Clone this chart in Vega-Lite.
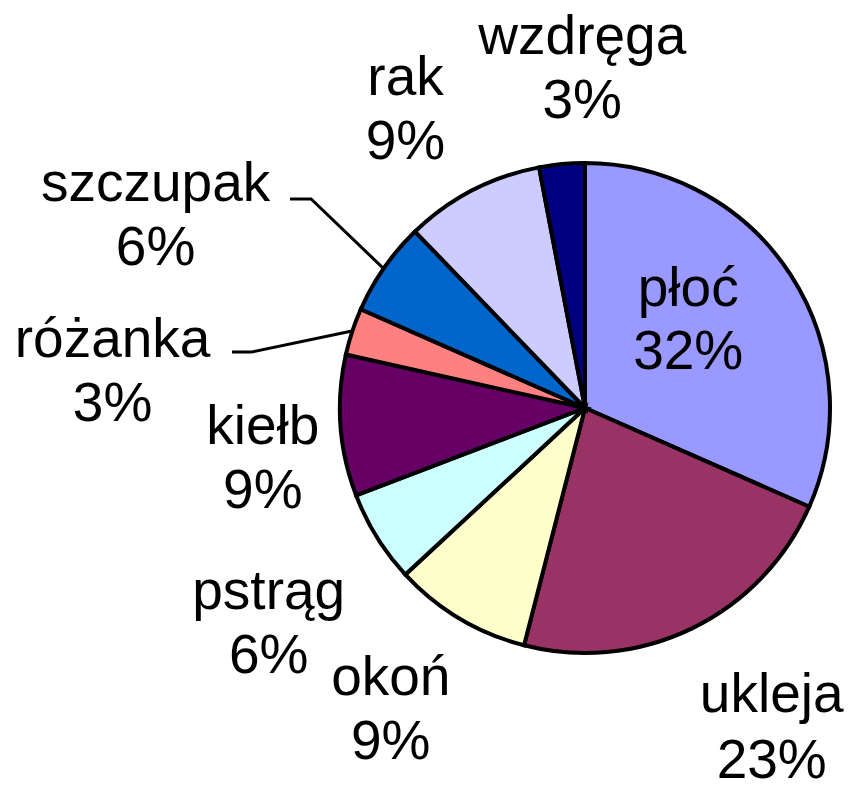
{
  "$schema": "https://vega.github.io/schema/vega-lite/v6.json",
  "autosize": "none",
  "width": 534,
  "height": 758,
  "padding": {"left": 318, "top": 29, "right": 0, "bottom": 0},
  "background": "white",
  "config": {"view": {"stroke": null}},
  "datasets": {
    "fish": [
      {"i": 1, "fish": "płoć", "value": 31.6, "label": "płoć\n32%"},
      {"i": 2, "fish": "ukleja", "value": 22.4, "label": "ukleja\n23%"},
      {"i": 3, "fish": "okoń", "value": 9.1, "label": "okoń\n9%"},
      {"i": 4, "fish": "pstrąg", "value": 6.1, "label": "pstrąg\n6%"},
      {"i": 5, "fish": "kiełb", "value": 9.3, "label": "kiełb\n9%"},
      {"i": 6, "fish": "różanka", "value": 3.1, "label": "różanka\n3%"},
      {"i": 7, "fish": "szczupak", "value": 6.2, "label": "szczupak\n6%"},
      {"i": 8, "fish": "rak", "value": 9.2, "label": "rak\n9%"},
      {"i": 9, "fish": "wzdręga", "value": 3.0, "label": "wzdręga\n3%"}
    ],
    "leaders": [
      {"seg": "szczupak", "k": 1, "u": -1.204, "v": 0.853},
      {"seg": "szczupak", "k": 2, "u": -1.118, "v": 0.853},
      {"seg": "szczupak", "k": 3, "u": -0.824, "v": 0.571},
      {"seg": "różanka", "k": 1, "u": -1.441, "v": 0.229},
      {"seg": "różanka", "k": 2, "u": -1.359, "v": 0.229},
      {"seg": "różanka", "k": 3, "u": -0.951, "v": 0.314}
    ]
  },
  "data": {"name": "fish"},
  "layer": [
    {
      "mark": {"type": "arc", "outerRadius": 245, "stroke": "black", "strokeWidth": 4},
      "encoding": {
        "theta": {"field": "value", "type": "quantitative", "stack": true, "scale": {"domain": [0, 100]}},
        "order": {"field": "i", "type": "quantitative"},
        "color": {
          "field": "fish", "type": "nominal", "legend": null, "sort": null,
          "scale": {
            "domain": ["płoć", "ukleja", "okoń", "pstrąg", "kiełb", "różanka", "szczupak", "rak", "wzdręga"],
            "range": ["#9999FF", "#993366", "#FFFFCC", "#CCFFFF", "#660066", "#FF8080", "#0066CC", "#CCCCFF", "#000080"]
          }
        }
      }
    },
    {
      "data": {"name": "leaders"},
      "mark": {"type": "line", "stroke": "black", "strokeWidth": 3},
      "encoding": {
        "x": {"field": "u", "type": "quantitative", "axis": null, "scale": {"domain": [-1.0898, 1.0898], "nice": false, "zero": false}},
        "y": {"field": "v", "type": "quantitative", "axis": null, "scale": {"domain": [-1.5469, 1.5469], "nice": false, "zero": false}},
        "detail": {"field": "seg", "type": "nominal"},
        "order": {"field": "k", "type": "quantitative"}
      }
    },
    {
      "mark": {"type": "text", "radius": 134, "dx": -9, "dy": -46, "font": "Liberation Sans", "fontSize": 55, "lineHeight": 63, "lineBreak": "\n", "align": "center", "baseline": "middle", "color": "black"},
      "encoding": {
        "theta": {"field": "value", "type": "quantitative", "stack": true},
        "order": {"field": "i", "type": "quantitative"},
        "text": {"condition": {"test": "datum.fish === 'płoć'", "field": "label"}, "value": ""}
      }
    },
    {
      "mark": {"type": "text", "radius": 370, "dx": 25, "dy": -46, "font": "Liberation Sans", "fontSize": 55, "lineHeight": 66, "lineBreak": "\n", "align": "center", "baseline": "middle", "color": "black"},
      "encoding": {
        "theta": {"field": "value", "type": "quantitative", "stack": true},
        "order": {"field": "i", "type": "quantitative"},
        "text": {"condition": {"test": "datum.fish === 'ukleja'", "field": "label"}, "value": ""}
      }
    },
    {
      "mark": {"type": "text", "radius": 360, "dx": -10, "dy": -39, "font": "Liberation Sans", "fontSize": 55, "lineHeight": 64, "lineBreak": "\n", "align": "center", "baseline": "middle", "color": "black"},
      "encoding": {
        "theta": {"field": "value", "type": "quantitative", "stack": true},
        "order": {"field": "i", "type": "quantitative"},
        "text": {"condition": {"test": "datum.fish === 'okoń'", "field": "label"}, "value": ""}
      }
    },
    {
      "mark": {"type": "text", "radius": 383, "dx": 9, "dy": -18, "font": "Liberation Sans", "fontSize": 55, "lineHeight": 64, "lineBreak": "\n", "align": "center", "baseline": "middle", "color": "black"},
      "encoding": {
        "theta": {"field": "value", "type": "quantitative", "stack": true},
        "order": {"field": "i", "type": "quantitative"},
        "text": {"condition": {"test": "datum.fish === 'pstrąg'", "field": "label"}, "value": ""}
      }
    },
    {
      "mark": {"type": "text", "radius": 326, "dx": 3, "dy": -5, "font": "Liberation Sans", "fontSize": 55, "lineHeight": 64, "lineBreak": "\n", "align": "center", "baseline": "middle", "color": "black"},
      "encoding": {
        "theta": {"field": "value", "type": "quantitative", "stack": true},
        "order": {"field": "i", "type": "quantitative"},
        "text": {"condition": {"test": "datum.fish === 'kiełb'", "field": "label"}, "value": ""}
      }
    },
    {
      "mark": {"type": "text", "radius": 473, "dx": -23, "dy": 80, "font": "Liberation Sans", "fontSize": 55, "lineHeight": 64, "lineBreak": "\n", "align": "center", "baseline": "middle", "color": "black"},
      "encoding": {
        "theta": {"field": "value", "type": "quantitative", "stack": true},
        "order": {"field": "i", "type": "quantitative"},
        "text": {"condition": {"test": "datum.fish === 'różanka'", "field": "label"}, "value": ""}
      }
    },
    {
      "mark": {"type": "text", "radius": 470, "dx": -44, "dy": 45, "font": "Liberation Sans", "fontSize": 55, "lineHeight": 64, "lineBreak": "\n", "align": "center", "baseline": "middle", "color": "black"},
      "encoding": {
        "theta": {"field": "value", "type": "quantitative", "stack": true},
        "order": {"field": "i", "type": "quantitative"},
        "text": {"condition": {"test": "datum.fish === 'szczupak'", "field": "label"}, "value": ""}
      }
    },
    {
      "mark": {"type": "text", "radius": 347, "dx": -20, "dy": -22, "font": "Liberation Sans", "fontSize": 55, "lineHeight": 64, "lineBreak": "\n", "align": "center", "baseline": "middle", "color": "black"},
      "encoding": {
        "theta": {"field": "value", "type": "quantitative", "stack": true},
        "order": {"field": "i", "type": "quantitative"},
        "text": {"condition": {"test": "datum.fish === 'rak'", "field": "label"}, "value": ""}
      }
    },
    {
      "mark": {"type": "text", "radius": 337, "dx": 29, "dy": -35, "font": "Liberation Sans", "fontSize": 55, "lineHeight": 64, "lineBreak": "\n", "align": "center", "baseline": "middle", "color": "black"},
      "encoding": {
        "theta": {"field": "value", "type": "quantitative", "stack": true},
        "order": {"field": "i", "type": "quantitative"},
        "text": {"condition": {"test": "datum.fish === 'wzdręga'", "field": "label"}, "value": ""}
      }
    }
  ]
}
